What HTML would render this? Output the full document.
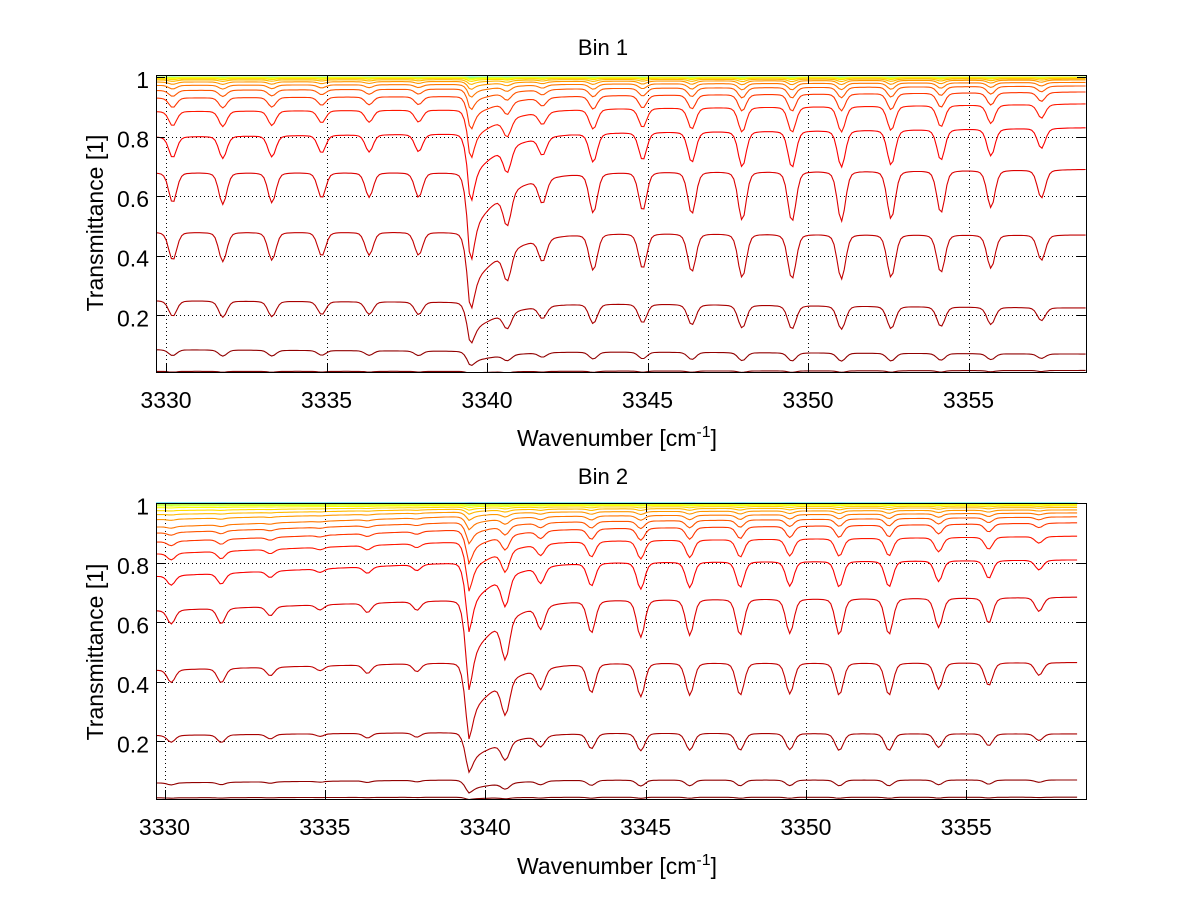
<!DOCTYPE html>
<html><head><meta charset="utf-8"><title>Transmittance spectra</title>
<style>
html,body{margin:0;padding:0;background:#fff;}
svg{display:block;font-family:"Liberation Sans",Arial,sans-serif;}
</style></head>
<body>
<svg id="chart" width="1200" height="901" viewBox="0 0 1200 901" xmlns="http://www.w3.org/2000/svg">
<rect x="0" y="0" width="1200" height="901" fill="#fff"/>
</svg>
<script>
// ---- data ----
const panelTitles = ["Bin 1", "Bin 2"];
const xTicks = [3330, 3335, 3340, 3345, 3350, 3355];
const yTicks = [0.2, 0.4, 0.6, 0.8, 1];
const yTickLabels = ["0.2", "0.4", "0.6", "0.8", "1"];
// absorption line centres (cm^-1)
const lineCenters = [3330.21,3331.77,3333.30,3334.85,3336.33,3337.87,3339.47,3340.63,3341.73,3343.31,3344.85,3346.38,3347.95,3349.50,3351.04,3352.59,3354.14,3355.70,3357.27];
// line optical depths per panel
const lineStrengthBin1 = [0.36,0.38,0.36,0.30,0.29,0.29,0.55,0.45,0.30,0.49,0.47,0.52,0.61,0.63,0.63,0.60,0.52,0.45,0.33];
const lineStrengthBin2 = [0.17,0.19,0.11,0.06,0.11,0.10,0.55,0.55,0.28,0.39,0.46,0.44,0.44,0.42,0.44,0.44,0.35,0.30,0.16];
const lineWidth = 0.12;
const lorentzWidth = 0.15;
// broad wing on the red side of the strong line
const tailCenter = 3339.47;
const tailAmp = [0.8, 0.8];
const tailWidth = [0.95, 0.95];
// baseline knots (cm^-1) and per-curve continuum levels at those knots
const baseKnots = [3329.7, 3339.0, 3358.7];
const baseBin1 = [
 [0.012,0.012,0.015],[0.085,0.08,0.07],[0.25,0.245,0.225],[0.48,0.48,0.47],[0.68,0.68,0.69],
 [0.80,0.81,0.83],[0.885,0.89,0.91],[0.93,0.935,0.95],[0.955,0.96,0.97],[0.972,0.975,0.982],
 [0.983,0.985,0.99],[0.99,0.991,0.994],[0.994,0.995,0.997],[0.997,0.997,0.998],[0.998,0.998,0.999],
 [0.999,0.999,0.9995],[0.9993,0.9993,0.9997],[0.9995,0.9995,0.9998],[0.9997,0.9997,0.9999],[0.9998,0.9998,1],
 [1,1,1],[1,1,1],[1,1,1],[1,1,1],[1,1,1],[1,1,1],[1,1,1],[1,1,1],[1,1,1],[1,1,1]];
const baseBin2 = [
 [0.01,0.012,0.012],[0.06,0.07,0.07],[0.22,0.23,0.225],[0.44,0.465,0.465],[0.64,0.675,0.685],
 [0.755,0.80,0.81],[0.83,0.87,0.89],[0.87,0.91,0.935],[0.90,0.935,0.955],[0.92,0.955,0.968],
 [0.945,0.97,0.978],[0.962,0.98,0.986],[0.975,0.987,0.991],[0.985,0.992,0.995],[0.991,0.995,0.997],
 [0.995,0.997,0.998],[0.997,0.998,0.999],[0.998,0.999,0.9995],[0.999,0.9995,0.9997],[0.9995,0.9997,0.9999],
 [0.9997,0.9998,1],[1,1,1],[1,1,1],[1,1,1],[1,1,1],[1,1,1],[1,1,1],[1,1,1],[1,1,1],[1,1,1]];
// per-curve effective line-depth factor (amount of absorber)
const curveDepth = [0.75,0.74,0.66,0.61,0.45,0.26,0.16,0.10,0.06,0.036,0.022,0.013,0.008,0.005,0.003,0.002,0.0015,0.001,0.0007,0.0005,0.0003,0.0002,0.0001,0,0,0,0,0,0,0];

// ---- layout ----
const panels = [
 {left:156,right:1086,top:75,bottom:372,x0:3330,x0px:166,pxPerX:32.1,y1px:77,pxPerY:297.9,xEnd:3358.65,
  strengths:lineStrengthBin1,base:baseBin1,tickY:408,titleY:55,xlabY:446,ylabC:223},
 {left:156,right:1086,top:503,bottom:799,x0:3330,x0px:164.5,pxPerX:32.07,y1px:503.3,pxPerY:297.5,xEnd:3358.5,
  strengths:lineStrengthBin2,base:baseBin2,tickY:835,titleY:484,xlabY:874,ylabC:652}
];
const NS = "http://www.w3.org/2000/svg";
const svg = document.getElementById("chart");
function mk(tag, attrs, parent){
  const e = document.createElementNS(NS, tag);
  for (const k in attrs) e.setAttribute(k, attrs[k]);
  (parent||svg).appendChild(e); return e;
}
function jet(v){
  const r = Math.min(Math.max(Math.min(4*v-1.5, -4*v+4.5),0),1);
  const g = Math.min(Math.max(Math.min(4*v-0.5, -4*v+3.5),0),1);
  const b = Math.min(Math.max(Math.min(4*v+0.5, -4*v+2.5),0),1);
  return "rgb("+Math.round(r*255)+","+Math.round(g*255)+","+Math.round(b*255)+")";
}
function baseAt(knots, vals, x){
  if (x <= knots[1]) { const t=(x-knots[0])/(knots[1]-knots[0]); return vals[0]+(vals[1]-vals[0])*t; }
  const t=(x-knots[1])/(knots[2]-knots[1]); return vals[1]+(vals[2]-vals[1])*t;
}
function tau(x, p, pi){
  let s = 0;
  for (let i=0;i<lineCenters.length;i++){
    const d = x-lineCenters[i];
    const gauss = Math.exp(-d*d/(2*lineWidth*lineWidth));
    const lor = lorentzWidth*lorentzWidth/(lorentzWidth*lorentzWidth+d*d);
    s += p.strengths[i]*(0.7*gauss + 0.3*lor);
  }
  if (x > tailCenter) s += tailAmp[pi]*Math.exp(-(x-tailCenter)/tailWidth[pi]);
  else s += tailAmp[pi]*Math.exp(-(tailCenter-x)/0.06);
  return s;
}

panels.forEach((p, pi) => {
  const g = mk("g", {});
  
  
  const X = v => p.x0px + (v - p.x0)*p.pxPerX;
  const Y = v => p.y1px + (1 - v)*p.pxPerY;
  const xMin = p.x0 - (p.x0px - p.left)/p.pxPerX;
  const cid = "clip"+pi;
  const cp = mk("clipPath", {id:cid}, g);
  mk("rect", {x:p.left, y:p.top-1, width:p.right-p.left, height:p.bottom-p.top+1}, cp);
  const grid = mk("g", {stroke:"#000","stroke-width":1,"stroke-dasharray":"1,3"}, g);
  
  
  xTicks.forEach(t => { const x=Math.round(X(t))+0.5; mk("line",{x1:x,x2:x,y1:p.top,y2:p.bottom},grid); });
  yTicks.forEach(t => { const y=Math.round(Y(t))+0.5; mk("line",{x1:p.left,x2:p.right,y1:y,y2:y},grid); });
  const cg = mk("g", {"clip-path":"url(#"+cid+")", fill:"none","stroke-width":1.1}, g);
  
  
  const N = p.base.length;
  for (let c=N-1;c>=0;c--){
    let d = "";
    for (let x=xMin; x<=p.xEnd+1e-9; x+=0.08){
      const v = baseAt(baseKnots, p.base[c], x)*Math.exp(-curveDepth[c]*tau(x,p,pi));
      d += (d?"L":"M") + X(x).toFixed(1) + "," + Y(v).toFixed(1);
    }
    const cv = 1 - Math.pow(c/(N-1),1.2)*0.98;
    const path = mk("path", {d:d, stroke:jet(cv)}, cg);
    
    
  }
  const box = mk("rect", {x:p.left+0.5,y:p.top+0.5,width:p.right-p.left,height:p.bottom-p.top,fill:"none",stroke:"#000","stroke-width":1}, g);
  
  
  xTicks.forEach(t => {
    const x=Math.round(X(t))+0.5;
    mk("line",{x1:x,x2:x,y1:p.bottom,y2:p.bottom-9,stroke:"#000"},g);
    mk("line",{x1:x,x2:x,y1:p.top,y2:p.top+9,stroke:"#000"},g);
    const tl = mk("text",{x:X(t),y:p.tickY,"font-size":23,"text-anchor":"middle",fill:"#000"},g);
    tl.textContent = String(t);
    
    
  });
  yTicks.forEach((t,i) => {
    const y=Math.round(Y(t))+0.5;
    mk("line",{x1:p.left,x2:p.left+9,y1:y,y2:y,stroke:"#000"},g);
    mk("line",{x1:p.right,x2:p.right-9,y1:y,y2:y,stroke:"#000"},g);
    const tl = mk("text",{x:149,y:Y(t)+11,"font-size":23,"text-anchor":"end",fill:"#000"},g);
    tl.textContent = yTickLabels[i];
    
    
  });
  const ti = mk("text",{x:603,y:p.titleY,"font-size":22,"text-anchor":"middle",fill:"#000"},g);
  ti.textContent = panelTitles[pi];
  
  
  const xl = mk("text",{x:617,y:p.xlabY,"font-size":23,"text-anchor":"middle",fill:"#000"},g);
  
  
  const t1 = mk("tspan",{},xl); t1.textContent = "Wavenumber [cm";
  const t2 = mk("tspan",{dy:-9,"font-size":16},xl); t2.textContent = "-1";
  const t3 = mk("tspan",{dy:9},xl); t3.textContent = "]";
  const yl = mk("text",{x:0,y:0,"font-size":23,"text-anchor":"middle",fill:"#000",
    transform:"translate(103,"+p.ylabC+") rotate(-90)"},g);
  yl.textContent = "Transmittance [1]";
  
  
});
</script>
</body></html>
